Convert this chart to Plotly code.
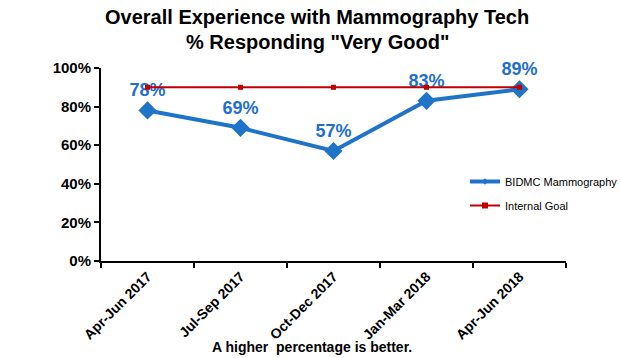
import plotly.graph_objects as go

categories = ["Apr-Jun 2017", "Jul-Sep 2017", "Oct-Dec 2017", "Jan-Mar 2018", "Apr-Jun 2018"]
bidmc = [78, 69, 57, 83, 89]
goal = [90, 90, 90, 90, 90]
y_ticks = [0, 20, 40, 60, 80, 100]
y_tick_text = [f"{v}%" for v in y_ticks]

FONT = "Liberation Sans, Arial, sans-serif"
BLUE = "#1F74C8"
LABEL_BLUE = "#1E6FD0"
RED = "#C00000"

L, R, T, B = 101, 54, 68, 97
PW, PH = 620 - L - R, 358 - T - B

fig = go.Figure()
fig.add_trace(go.Scatter(
    x=categories, y=bidmc, name="BIDMC Mammography", showlegend=False,
    mode="lines+markers+text", cliponaxis=False,
    line=dict(color=BLUE, width=4),
    marker=dict(symbol="diamond", size=14, color=BLUE),
    text=[f"{v}%" for v in bidmc], textposition="top center",
    textfont=dict(family=FONT, size=18, color=LABEL_BLUE, weight="bold"),
))
fig.add_trace(go.Scatter(
    x=categories, y=goal, name="Internal Goal", showlegend=False,
    mode="lines+markers", cliponaxis=False,
    line=dict(color=RED, width=2),
    marker=dict(symbol="square", size=5, color=RED),
))
# legend-only entries (smaller legend symbols, like the reference)
fig.add_trace(go.Scatter(
    x=[None], y=[None], name="BIDMC Mammography", mode="lines+markers", legendgroup="a",
    line=dict(color=BLUE, width=4), marker=dict(symbol="diamond", size=5, color=BLUE),
))
fig.add_trace(go.Scatter(
    x=[None], y=[None], name="Internal Goal", mode="lines+markers", legendgroup="b",
    line=dict(color=RED, width=2), marker=dict(symbol="square", size=6, color=RED),
))

def py(pix):
    return (358 - B - pix) / PH

def px(pix):
    return (pix - L) / PW

fig.update_layout(
    width=620, height=358,
    margin=dict(l=L, r=R, t=T, b=B, autoexpand=False),
    paper_bgcolor="white", plot_bgcolor="white",
    font=dict(family=FONT, color="black"),
    showlegend=True,
    legend=dict(x=px(465), y=py(167), xanchor="left", yanchor="top",
                font=dict(family=FONT, size=11, color="black"),
                bgcolor="rgba(0,0,0,0)", tracegroupgap=5, itemwidth=30),
    xaxis=dict(
        type="category", range=[-0.5, 4.5], tickson="boundaries", automargin=False,
        showline=True, linecolor="black", linewidth=2,
        ticks="outside", ticklen=5, tickwidth=2, tickcolor="black",
        tickangle=-45, tickfont=dict(family=FONT, size=14, color="black", weight="bold"),
        showgrid=False, zeroline=False,
    ),
    yaxis=dict(
        range=[0, 100], tickvals=y_ticks, ticktext=y_tick_text, automargin=False,
        showline=True, linecolor="black", linewidth=2,
        ticks="outside", ticklen=5, tickwidth=2, tickcolor="black",
        tickfont=dict(family=FONT, size=15, color="black", weight="bold"),
        showgrid=False, zeroline=False,
    ),
    annotations=[
        dict(text="<b>Overall Experience with Mammography Tech</b>", xref="paper", yref="paper",
             x=px(317), y=py(17), xanchor="center", yanchor="middle", showarrow=False,
             font=dict(family=FONT, size=20, color="black")),
        dict(text="<b>% Responding \"Very Good\"</b>", xref="paper", yref="paper",
             x=px(317), y=py(42), xanchor="center", yanchor="middle", showarrow=False,
             font=dict(family=FONT, size=20, color="black")),
        dict(text="<b>A higher  percentage is better.</b>", xref="paper", yref="paper",
             x=px(312), y=py(347), xanchor="center", yanchor="middle",
             showarrow=False, font=dict(family=FONT, size=14, color="black")),
    ],
)

fig.write_html("out.html", config={"displayModeBar": False},
               post_script="document.body.style.margin='0';")
